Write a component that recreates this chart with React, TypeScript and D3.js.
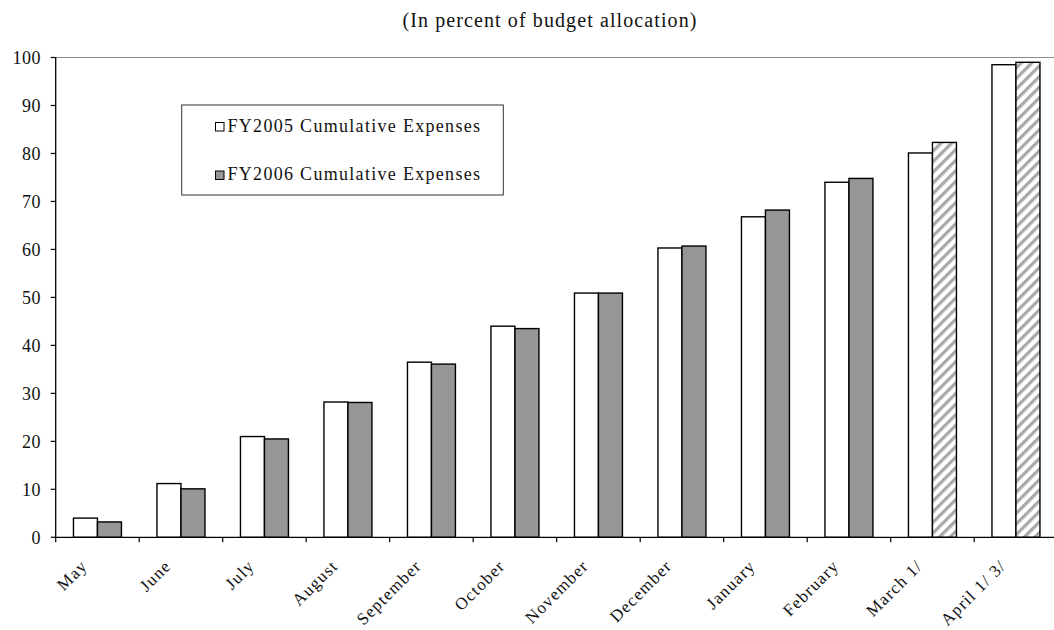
import React from "react";
import * as d3 from "d3";

// Cumulative budget execution by month, in percent of allocation
const months = [
  "May", "June", "July", "August", "September", "October",
  "November", "December", "January", "February", "March 1/", "April 1/ 3/",
];
const fy2005 = [4.0, 11.2, 21.0, 28.2, 36.5, 44.0, 50.9, 60.3, 66.8, 74.0, 80.1, 98.5];
const fy2006 = [3.2, 10.1, 20.5, 28.1, 36.1, 43.5, 50.9, 60.7, 68.2, 74.8, 82.3, 99.0];
// FY2006 months shown as projections (hatched)
const projected = [false, false, false, false, false, false, false, false, false, false, true, true];
const seriesKeys = ["fy2005", "fy2006"];
const seriesLabels = ["FY2005 Cumulative Expenses", "FY2006 Cumulative Expenses"];
const yTicks = [0, 10, 20, 30, 40, 50, 60, 70, 80, 90, 100];

const W = 1054;
const H = 630;
const left = 55.7;
const right = 1057.7;
const top = 57.5;
const bottom = 537.3;
const font = "'Liberation Serif', 'Times New Roman', serif";

export default function App() {
  const x = d3.scaleBand<string>().domain(months).range([left, right]).padding(0);
  const inner = d3
    .scaleBand<string>()
    .domain(seriesKeys)
    .range([0, x.bandwidth()])
    .paddingInner(0)
    .paddingOuter(0.74);
  const y = d3.scaleLinear().domain([0, 100]).range([bottom, top]);

  const bars: { key: string; x: number; y: number; w: number; h: number; fill: string }[] = [];
  months.forEach((m, i) => {
    const b0 = x(m)!;
    bars.push({
      key: `a-${i}`,
      x: b0 + inner("fy2005")!,
      y: y(fy2005[i]),
      w: inner.bandwidth(),
      h: y(0) - y(fy2005[i]),
      fill: "#ffffff",
    });
    bars.push({
      key: `b-${i}`,
      x: b0 + inner("fy2006")!,
      y: y(fy2006[i]),
      w: inner.bandwidth(),
      h: y(0) - y(fy2006[i]),
      fill: projected[i] ? "url(#hatch)" : "#969696",
    });
  });

  const boundaries = months.map((m) => x(m)!).concat([right]);

  return (
    <svg
      width={W}
      height={H}
      style={{ position: "absolute", left: 0, top: 0, background: "#fff" }}
      fontFamily={font}
    >
      <defs>
        <pattern
          id="hatch"
          patternUnits="userSpaceOnUse"
          width={7.5}
          height={7.5}
          patternTransform="rotate(45)"
        >
          <rect width={7.5} height={7.5} fill="#ffffff" />
          <rect x={0} y={0} width={3.2} height={7.5} fill="#a8a8a8" />
        </pattern>
      </defs>
      <rect width={W} height={H} fill="#fff" />

      <text x={550} y={26.5} textAnchor="middle" fontSize={20} letterSpacing={1.1} fill="#111">
        (In percent of budget allocation)
      </text>

      {/* plot frame top edge */}
      <line x1={left} x2={right} y1={y(100)} y2={y(100)} stroke="#8c8c8c" strokeWidth={1.2} />

      {/* bars */}
      {bars.map((b) => (
        <rect
          key={b.key}
          x={b.x}
          y={b.y}
          width={b.w}
          height={b.h}
          fill={b.fill}
          stroke="#000"
          strokeWidth={1.4}
        />
      ))}

      {/* y axis */}
      <line x1={left} x2={left} y1={top} y2={bottom} stroke="#000" strokeWidth={1.3} />
      {yTicks.map((t) => (
        <g key={t}>
          <line x1={left - 5} x2={left} y1={y(t)} y2={y(t)} stroke="#000" strokeWidth={1.2} />
          <text x={41} y={y(t)} dy="0.35em" textAnchor="end" fontSize={18} letterSpacing={0.5} fill="#111">
            {t}
          </text>
        </g>
      ))}

      {/* x axis */}
      <line x1={left} x2={right} y1={bottom} y2={bottom} stroke="#000" strokeWidth={1.3} />
      {boundaries.map((bx, i) => (
        <line key={i} x1={bx} x2={bx} y1={bottom} y2={bottom + 5} stroke="#000" strokeWidth={1.2} />
      ))}
      {months.map((m) => {
        const cx = x(m)! + x.bandwidth() / 2 - 9;
        const cy = 567;
        return (
          <text
            key={m}
            x={cx}
            y={cy}
            textAnchor="end"
            fontSize={17}
            letterSpacing={1.2}
            fill="#111"
            transform={`rotate(-45 ${cx} ${cy})`}
          >
            {m}
          </text>
        );
      })}

      {/* legend */}
      <rect x={181.7} y={105} width={321.6} height={90} fill="#fff" stroke="#333" strokeWidth={1} />
      {seriesLabels.map((lab, i) => {
        const ly = 131.5 + i * 48.5;
        return (
          <g key={lab}>
            <rect
              x={215.5}
              y={ly - 9}
              width={8.5}
              height={8.5}
              fill={i === 0 ? "#fff" : "#969696"}
              stroke="#000"
              strokeWidth={1}
            />
            <text x={227.5} y={ly} fontSize={18} letterSpacing={1.3} fill="#111">
              {lab}
            </text>
          </g>
        );
      })}
    </svg>
  );
}
